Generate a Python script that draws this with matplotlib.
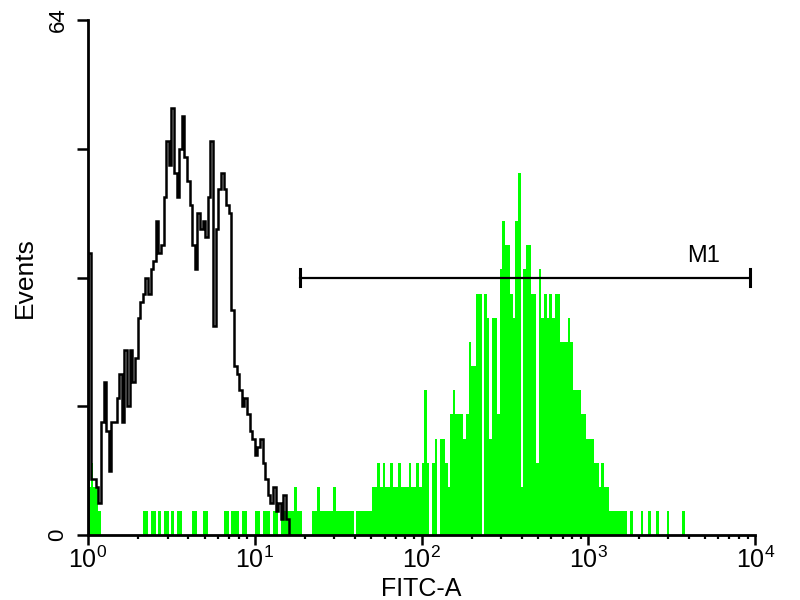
import numpy as np
import matplotlib
matplotlib.use('Agg')
import matplotlib.pyplot as plt
from matplotlib.transforms import ScaledTranslation

plt.rcParams['font.family'] = ['Liberation Sans', 'DejaVu Sans']
plt.rcParams['mathtext.fontset'] = 'custom'
plt.rcParams['mathtext.rm'] = 'Liberation Sans'

# 256 channels over 4 decades
n_channels = 256
decades = 4

# control (black outline), channels 0..77
black_counts = [
    35, 7, 7, 6, 4, 14, 19, 13, 8, 14,
    14, 17, 20, 14, 23, 16, 23, 19, 22, 27,
    29, 30, 32, 30, 33, 34, 39, 35, 36, 42,
    49, 46, 53, 45, 42, 48, 52, 47, 44, 41,
    36, 33, 40, 38, 39, 37, 42, 49, 26, 38,
    43, 45, 43, 41, 40, 28, 21, 20, 18, 16,
    17, 15, 13, 12, 10, 11, 12, 9, 7, 5,
    4, 6, 3, 4, 2, 5, 2, 0,
]

# stained sample (green fill), channels 0..229
green_counts = [
    6, 9, 6, 6, 3, 0, 0, 0, 0, 0,
    0, 0, 0, 0, 0, 0, 0, 0, 0, 0,
    0, 3, 3, 0, 3, 3, 0, 3, 0, 3,
    3, 0, 3, 0, 3, 3, 0, 0, 0, 0,
    3, 3, 0, 0, 3, 3, 0, 0, 0, 0,
    0, 0, 3, 3, 0, 3, 3, 3, 0, 3,
    3, 0, 0, 0, 3, 3, 0, 3, 3, 3,
    0, 3, 3, 0, 3, 3, 3, 3, 3, 6,
    3, 3, 0, 0, 0, 0, 3, 3, 6, 3,
    3, 3, 3, 3, 6, 3, 3, 3, 3, 3,
    3, 3, 0, 3, 3, 3, 3, 3, 3, 6,
    6, 9, 6, 9, 6, 6, 9, 6, 6, 9,
    6, 6, 6, 9, 6, 6, 9, 6, 9, 18,
    9, 0, 9, 12, 0, 12, 12, 9, 6, 15,
    18, 15, 15, 15, 12, 15, 24, 21, 21, 30,
    30, 0, 30, 27, 12, 27, 27, 15, 33, 39,
    36, 36, 30, 27, 39, 45, 6, 33, 36, 36,
    30, 30, 9, 33, 27, 30, 27, 30, 27, 30,
    30, 24, 24, 24, 27, 24, 18, 18, 18, 15,
    15, 12, 12, 12, 9, 9, 6, 9, 6, 6,
    3, 3, 3, 3, 3, 3, 3, 0, 3, 0,
    0, 0, 3, 0, 0, 3, 0, 0, 3, 0,
    0, 0, 3, 0, 0, 0, 0, 0, 3, 0,
]

# M1 marker gate
m1_lo, m1_hi, m1_level = 18.7, 9300.0, 32
m1_label_x = 4900.0

edges = 10 ** (np.arange(n_channels + 1) * decades / n_channels)

fig = plt.figure(figsize=(8, 6), dpi=100)
ax = fig.add_axes([0.11, 0.108, 0.834, 0.859])

ax.stairs(green_counts, edges[:len(green_counts) + 1], fill=True,
          color='#00ff00', zorder=2)
ax.stairs(black_counts, edges[:len(black_counts) + 1], color='black',
          linewidth=1.8, zorder=3)

# gate marker
ax.plot([m1_lo, m1_hi], [m1_level, m1_level], color='black', lw=1.6, zorder=4)
for xe in (m1_lo, m1_hi):
    ax.plot([xe, xe], [m1_level - 1.1, m1_level + 1.1], color='black', lw=2.2, zorder=4)
ax.text(m1_label_x, m1_level + 1.3, 'M1', fontsize=17, ha='center', va='bottom')

ax.set_xscale('log')
ax.set_xlim(1, 10 ** decades)
ax.set_ylim(0, 64)

ax.set_xticks([10 ** i for i in range(decades + 1)])
ax.set_xticklabels([r'$\mathregular{10^{%d}}$' % i for i in range(decades + 1)], fontsize=18)
shift = ScaledTranslation(8 / 72, 0, fig.dpi_scale_trans)
for lab in ax.get_xticklabels():
    lab.set_transform(lab.get_transform() + shift)
ax.xaxis.set_minor_locator(matplotlib.ticker.LogLocator(base=10, subs=np.arange(2, 10)))
ax.xaxis.set_minor_formatter(matplotlib.ticker.NullFormatter())
ax.tick_params(axis='x', which='major', length=7, width=1.8, direction='out', pad=1)
ax.tick_params(axis='x', which='minor', length=3, width=1.6, direction='out')

ax.set_yticks([0, 16, 32, 48, 64])
ax.set_yticklabels(['0', '', '', '', '64'], rotation=90, va='center', fontsize=16)
ax.tick_params(axis='y', length=8, width=1.8, direction='out', pad=6)

for s in ['top', 'right']:
    ax.spines[s].set_visible(False)
for s in ['left', 'bottom']:
    ax.spines[s].set_linewidth(2)

ax.set_xlabel('FITC-A', fontsize=18, labelpad=3)
ax.set_ylabel('Events', fontsize=19, labelpad=8)

fig.savefig('out.png', dpi=100)
